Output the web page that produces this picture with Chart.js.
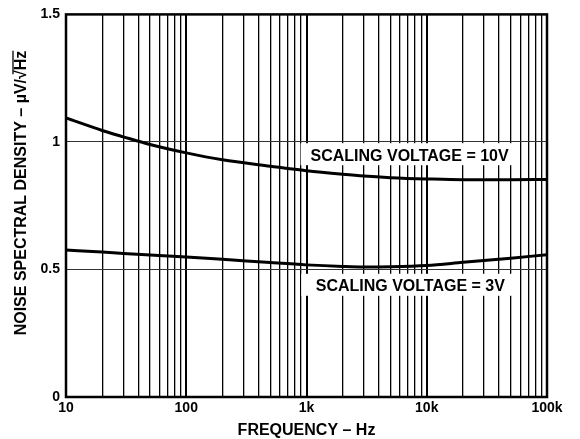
<!DOCTYPE html>
<html><head><meta charset="utf-8">
<script src="https://cdn.jsdelivr.net/npm/chart.js@4/dist/chart.umd.min.js"></script>
<style>html,body{margin:0;padding:0;background:#fff}#wrap{width:580px;height:439px}</style>
</head><body><div id="wrap"><canvas id="c" width="580" height="439"></canvas></div>
<script>
const frequencies = [10, 20, 30, 50, 100, 200, 500, 1000, 2000, 3000, 5000, 10000, 20000, 50000, 100000];
const noise10V = [1.094, 1.045, 1.02, 0.99, 0.957, 0.93, 0.905, 0.887, 0.873, 0.866, 0.86, 0.855, 0.852, 0.852, 0.853];
const noise3V  = [0.576, 0.568, 0.563, 0.557, 0.549, 0.54, 0.527, 0.518, 0.512, 0.51, 0.511, 0.516, 0.528, 0.544, 0.558];
const xTickLabels = {10: '10', 100: '100', 1000: '1k', 10000: '10k', 100000: '100k'};
const yTickValues = [0, 0.5, 1, 1.5];
const annotations = [
  {text: 'SCALING VOLTAGE = 10V', x: 7200, y: 0.948},
  {text: 'SCALING VOLTAGE = 3V', x: 7300, y: 0.436}
];
const xTitle = 'FREQUENCY – Hz';
const yTitleMain = 'NOISE SPECTRAL DENSITY – µV/√';
const yTitleOver = 'Hz';

const FONT = 'Liberation Sans, Arial, sans-serif';
const toPts = (ys) => frequencies.map((f, i) => ({x: f, y: ys[i]}));

const overlay = {
  id: 'overlay',
  beforeDatasetsDraw(chart) {
    const ctx = chart.ctx, xs = chart.scales.x, ys = chart.scales.y;
    ctx.save();
    ctx.font = 'bold 16px ' + FONT;
    ctx.textAlign = 'center';
    ctx.textBaseline = 'middle';
    annotations.forEach(a => {
      const cx = xs.getPixelForValue(a.x), cy = ys.getPixelForValue(a.y);
      const w = Math.max(ctx.measureText(a.text).width + 16, 218);
      ctx.fillStyle = '#fff';
      ctx.fillRect(cx - w / 2, cy - 12, w, 22);
      ctx.fillStyle = '#000';
      ctx.fillText(a.text, cx, cy + 1);
    });
    ctx.restore();
  },
  afterDraw(chart) {
    const ctx = chart.ctx, ca = chart.chartArea;
    ctx.save();
    ctx.strokeStyle = '#000';
    ctx.lineWidth = 2.5;
    ctx.strokeRect(ca.left, ca.top, ca.right - ca.left, ca.bottom - ca.top);
    // x title
    ctx.font = 'bold 16px ' + FONT;
    ctx.fillStyle = '#000';
    ctx.textAlign = 'center';
    ctx.textBaseline = 'middle';
    ctx.fillText(xTitle, (ca.left + ca.right) / 2, 431);
    // y title
    ctx.translate(22, 193);
    ctx.rotate(-Math.PI / 2);
    const w1 = ctx.measureText(yTitleMain).width, w2 = ctx.measureText(yTitleOver).width;
    const start = -(w1 + w2) / 2;
    ctx.textAlign = 'left';
    ctx.fillText(yTitleMain, start, 0);
    ctx.fillText(yTitleOver, start + w1, 0);
    ctx.lineWidth = 1.3;
    ctx.beginPath();
    ctx.moveTo(start + w1 - 4, -9);
    ctx.lineTo(start + w1 + w2, -9);
    ctx.stroke();
    ctx.restore();
  }
};

new Chart(document.getElementById('c'), {
  type: 'line',
  data: {
    datasets: [
      {data: toPts(noise10V), borderColor: '#000', borderWidth: 3, pointRadius: 0, cubicInterpolationMode: 'monotone', fill: false},
      {data: toPts(noise3V), borderColor: '#000', borderWidth: 3, pointRadius: 0, cubicInterpolationMode: 'monotone', fill: false}
    ]
  },
  options: {
    responsive: false,
    animation: false,
    events: [],
    layout: {padding: {left: 0, top: 14, right: 33, bottom: 0}},
    plugins: {legend: {display: false}, tooltip: {enabled: false}},
    scales: {
      x: {
        type: 'logarithmic', min: 10, max: 100000,
        afterBuildTicks(scale) {
          const t = [];
          for (let d = 10; d <= 100000; d *= 10) {
            for (let m = 1; m <= 9; m++) { const v = d * m; if (v <= 100000) t.push({value: v}); }
          }
          scale.ticks = t;
        },
        afterFit(scale) { scale.height = 42; },
        border: {display: false},
        grid: {
          color: '#000',
          lineWidth: (c) => (c.tick && xTickLabels[c.tick.value]) ? 2 : 1.3,
          drawTicks: false
        },
        ticks: {
          autoSkip: false, maxRotation: 0, padding: 3, color: '#000',
          font: {family: FONT, size: 14, weight: 'bold'},
          callback: (v) => xTickLabels[v] || ''
        }
      },
      y: {
        min: 0, max: 1.5,
        afterBuildTicks(scale) { scale.ticks = yTickValues.map(v => ({value: v})); },
        afterFit(scale) { scale.width = 66; },
        border: {display: false},
        grid: {color: '#333', lineWidth: 1, drawTicks: false},
        ticks: {
          padding: 6, color: '#000',
          font: {family: FONT, size: 14, weight: 'bold'},
          callback: (v) => String(v)
        }
      }
    }
  },
  plugins: [overlay]
});
</script></body></html>
